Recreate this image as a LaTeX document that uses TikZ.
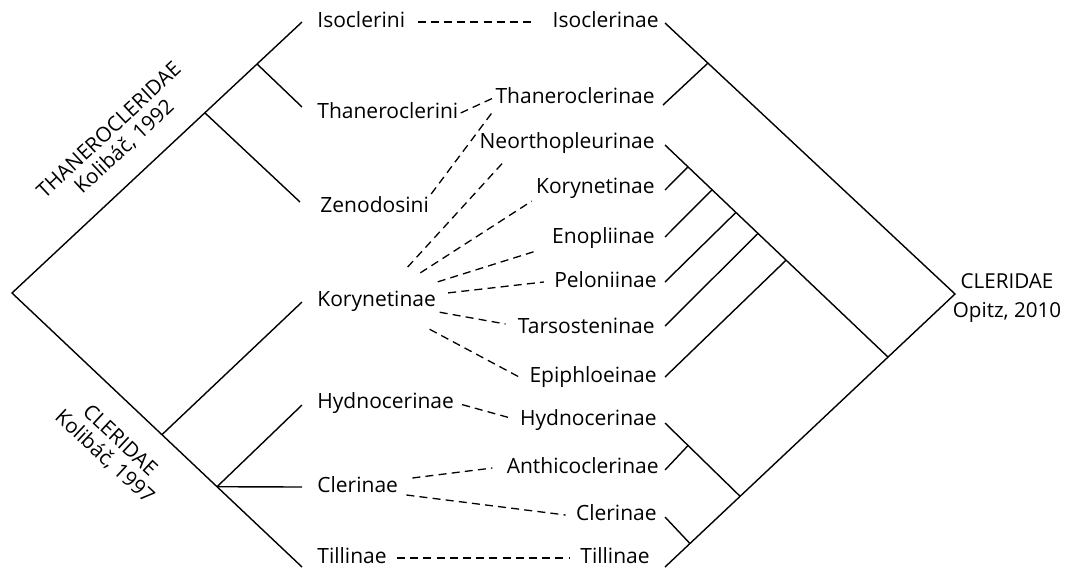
\documentclass[tikz,border=0pt]{standalone}
\usepackage{fontspec}
\setmainfont{Open Sans}
\usetikzlibrary{positioning,calc}

\begin{document}
\begin{tikzpicture}[
    x=0.5pt, y=-0.5pt,
    taxon/.style={inner sep=1pt, font=\fontsize{10.5}{12}\selectfont, text height=1.5ex, text depth=0.5ex},
    family/.style={align=center, inner sep=0pt, font=\fontsize{10.3}{11.2}\selectfont},
    branch/.style={line width=0.7pt},
    link/.style={line width=0.65pt, dash pattern=on 4pt off 2.6pt}
]
\useasboundingbox (0,0) rectangle (1070,574);

% Left tree (Kolibac)
\coordinate (rootL) at (12,293);
\coordinate (tipIsoL) at (302,22);
\coordinate (tipTilL) at (302,567);
\coordinate (jZen) at ($(rootL)!0.665!(tipIsoL)$);
\coordinate (jThan) at ($(rootL)!0.845!(tipIsoL)$);
\coordinate (jKor) at ($(rootL)!0.517!(tipTilL)$);
\coordinate (jCle) at ($(rootL)!0.707!(tipTilL)$);
\coordinate (tipThanL) at (302,107);
\coordinate (tipZen) at (300,202);
\coordinate (tipKorL) at (302,302);
\coordinate (tipHydL) at (302,405);
\coordinate (tipCleL) at (302,487);

\draw[branch] (tipIsoL) -- (rootL) -- (tipTilL);
\draw[branch] (jThan) -- (tipThanL);
\draw[branch] (jZen) -- (tipZen);
\draw[branch] (jKor) -- (tipKorL);
\draw[branch] (jCle) -- (tipHydL);
\draw[branch] (jCle) -- (tipCleL);

% Right tree (Opitz)
\coordinate (rootR) at (955,294);
\coordinate (tipIsoR) at (665,23);
\coordinate (tipTilR) at (665,567);
\coordinate (jThanR) at ($(rootR)!0.852!(tipIsoR)$);
\coordinate (jNeo) at ($(rootR)!0.231!(tipTilR)$);
\coordinate (jHyd) at ($(rootR)!0.741!(tipTilR)$);
\coordinate (jTil) at ($(rootR)!0.914!(tipTilR)$);
\coordinate (tipThanR) at (663,105);
\coordinate (tipNeo) at (665,145);
\coordinate (jKorR) at ($(tipNeo)!0.103!(jNeo)$);
\coordinate (jEno) at ($(tipNeo)!0.211!(jNeo)$);
\coordinate (jPel) at ($(tipNeo)!0.318!(jNeo)$);
\coordinate (jTar) at ($(tipNeo)!0.417!(jNeo)$);
\coordinate (jEpi) at ($(tipNeo)!0.543!(jNeo)$);
\coordinate (tipKorR) at (665,190);
\coordinate (tipEno) at (665,237);
\coordinate (tipPel) at (665,282);
\coordinate (tipTar) at (665,326);
\coordinate (tipEpi) at (665,377);
\coordinate (tipHydR) at (665,423);
\coordinate (jAnt) at ($(tipHydR)!0.307!(jHyd)$);
\coordinate (tipAnt) at (665,470);
\coordinate (tipCleR) at (665,517);

\draw[branch] (tipIsoR) -- (rootR) -- (tipTilR);
\draw[branch] (jThanR) -- (tipThanR);
\draw[branch] (jNeo) -- (tipNeo);
\draw[branch] (jKorR) -- (tipKorR);
\draw[branch] (jEno) -- (tipEno);
\draw[branch] (jPel) -- (tipPel);
\draw[branch] (jTar) -- (tipTar);
\draw[branch] (jEpi) -- (tipEpi);
\draw[branch] (jHyd) -- (tipHydR);
\draw[branch] (jAnt) -- (tipAnt);
\draw[branch] (jTil) -- (tipCleR);

% Family names
\node[family, rotate=43] (thaneroFam) at (117,139) {THANEROCLERIDAE\\Kolibáč, 1992};
\node[family, rotate=-43] (cleridFam) at (112,449) {CLERIDAE\\Kolibáč, 1997};
\node[family] (opitzFam) at (1007,298) {CLERIDAE\\[3.5pt]Opitz, 2010};

% Tribes/subfamilies, Kolibac
\node[taxon, anchor=west] (isoL) at (315,22) {Isoclerini};
\node[taxon, anchor=west] (thanL) at (315,113) {Thaneroclerini};
\node[taxon, anchor=west] (zenL) at (318,207) {Zenodosini};
\node[taxon, anchor=west] (korL) at (315,301) {Korynetinae};
\node[taxon, anchor=west] (hydL) at (315,403) {Hydnocerinae};
\node[taxon, anchor=west] (cleL) at (315,487) {Clerinae};
\node[taxon, anchor=west] (tilL) at (315,558) {Tillinae};

% Subfamilies, Opitz
\node[taxon, anchor=east] (isoR) at (661,22) {Isoclerinae};
\node[taxon, anchor=east] (thanR) at (657,98) {Thaneroclerinae};
\node[taxon, anchor=east] (neoR) at (657,143) {Neorthopleurinae};
\node[taxon, anchor=east] (korR) at (657,188) {Korynetinae};
\node[taxon, anchor=east] (enoR) at (657,238) {Enopliinae};
\node[taxon, anchor=east] (pelR) at (659,282) {Peloniinae};
\node[taxon, anchor=east] (tarR) at (657,328) {Tarsosteninae};
\node[taxon, anchor=east] (epiR) at (659,377) {Epiphloeinae};
\node[taxon, anchor=east] (hydR) at (659,420) {Hydnocerinae};
\node[taxon, anchor=east] (antR) at (661,468) {Anthicoclerinae};
\node[taxon, anchor=east] (cleR) at (659,515) {Clerinae};
\node[taxon, anchor=east] (tilR) at (652,558) {Tillinae};

% Correspondences
\draw[link, shorten <=5pt, shorten >=7.5pt] (isoL) -- (isoR);
\draw[link] (thanL.east) -- (thanR.west);
\draw[link] (zenL.north east) -- (thanR.south west);
\draw[link, shorten <=23pt] (korL.center) -- ([xshift=14pt,yshift=-2pt]neoR.south west);
\draw[link, shorten <=26pt] (korL.center) -- ([xshift=-1pt]korR.south west);
\draw[link, shorten <=32pt] (korL.center) -- ([xshift=-7pt]enoR.south west);
\draw[link, shorten <=36pt] (korL.center) -- ([xshift=-4pt]pelR.west);
\draw[link, shorten <=32pt] (korL.center) -- ([xshift=-5pt,yshift=2pt]tarR.west);
\draw[link, shorten <=30pt] (korL.center) -- ([xshift=-4pt]epiR.west);
\draw[link, shorten <=3pt, shorten >=3pt] (hydL.east) -- (hydR.west);
\draw[link] ($(cleL.east)+(12,-9)$) -- ($(antR.west)+(-12,0)$);
\draw[link] ($(cleL.east)+(6,8)$) -- ($(cleR.west)+(-8,0)$);
\draw[link, shorten <=4pt, shorten >=4pt] (tilL) -- (tilR);

\end{tikzpicture}
\end{document}
